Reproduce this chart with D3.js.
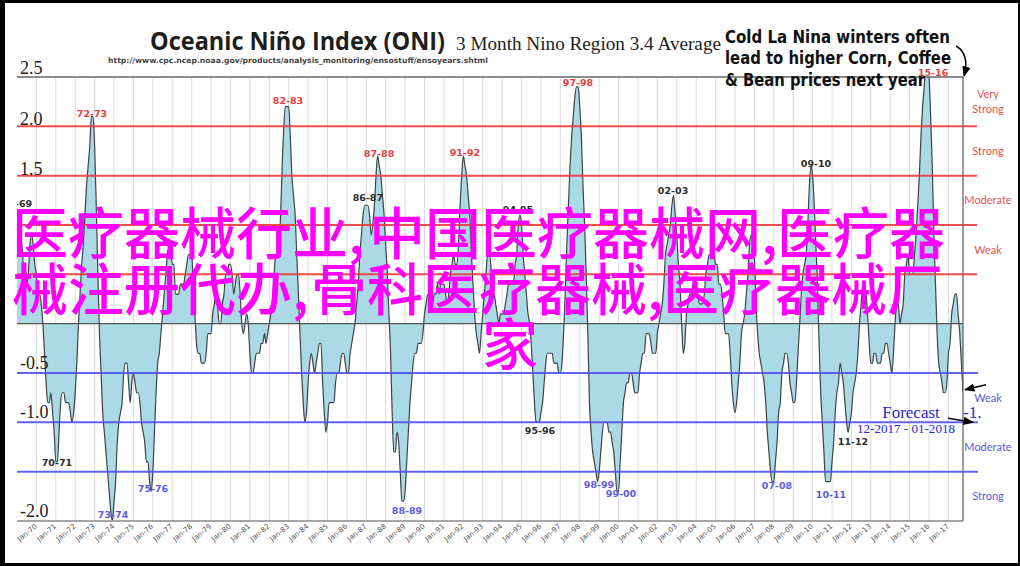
<!DOCTYPE html>
<html><head><meta charset="utf-8">
<script src="https://cdn.jsdelivr.net/npm/d3@7"></script>
<style>html,body{margin:0;padding:0;background:#fff;}svg{display:block;}</style>
</head><body>
<svg id="chart" width="1020" height="566"></svg>
<script>
// ---- DATA ----
const startYear = 1969;
// Oceanic Nino Index, 3-month running mean, one value per month (DJF, JFM, ... NDJ)
const oniValues = [
  1.1,1.1,0.9,0.8,0.6,0.6,0.4,0.5,0.8,0.9,0.8,0.6,        // 1969
  0.5,0.3,0.3,0.2,0.0,-0.3,-0.6,-0.8,-0.8,-0.7,-0.9,-1.1,  // 1970
  -1.4,-1.4,-1.1,-0.8,-0.7,-0.7,-0.8,-0.8,-0.8,-0.9,-1.0,-0.9, // 1971
  -0.7,-0.4,0.0,0.3,0.6,0.8,1.1,1.4,1.6,1.8,2.1,2.1,      // 1972
  1.8,1.2,0.5,-0.1,-0.5,-0.9,-1.1,-1.3,-1.5,-1.7,-1.9,-2.0, // 1973
  -1.8,-1.6,-1.2,-1.0,-0.9,-0.8,-0.5,-0.4,-0.4,-0.6,-0.8,-0.6, // 1974
  -0.5,-0.6,-0.7,-0.7,-0.8,-1.0,-1.1,-1.2,-1.4,-1.4,-1.6,-1.7, // 1975
  -1.5,-1.1,-0.7,-0.4,-0.3,-0.1,0.1,0.3,0.5,0.7,0.8,0.8,  // 1976
  0.6,0.6,0.3,0.3,0.3,0.4,0.4,0.4,0.5,0.6,0.7,0.7,        // 1977
  0.7,0.4,0.1,-0.2,-0.3,-0.3,-0.4,-0.4,-0.4,-0.3,-0.1,-0.1, // 1978
  -0.1,0.1,0.2,0.3,0.2,0.0,0.0,0.2,0.3,0.5,0.5,0.6,       // 1979
  0.6,0.5,0.3,0.4,0.5,0.5,0.3,0.0,-0.1,0.0,0.1,0.0,       // 1980
  -0.3,-0.5,-0.5,-0.4,-0.3,-0.3,-0.3,-0.2,-0.2,-0.1,-0.2,-0.1, // 1981
  0.0,0.1,0.2,0.5,0.7,0.7,0.8,1.1,1.6,2.0,2.2,2.2,        // 1982
  2.2,1.9,1.5,1.3,1.1,0.7,0.3,-0.1,-0.5,-0.8,-1.0,-0.9,   // 1983
  -0.6,-0.4,-0.3,-0.4,-0.5,-0.4,-0.3,-0.2,-0.2,-0.6,-0.9,-1.1, // 1984
  -1.0,-0.8,-0.8,-0.8,-0.8,-0.6,-0.5,-0.5,-0.4,-0.3,-0.3,-0.4, // 1985
  -0.5,-0.5,-0.3,-0.2,-0.1,0.0,0.2,0.4,0.7,0.9,1.1,1.2,   // 1986
  1.2,1.2,1.1,0.9,1.0,1.2,1.5,1.7,1.6,1.5,1.3,1.1,        // 1987
  0.8,0.5,0.1,-0.3,-0.9,-1.3,-1.3,-1.1,-1.2,-1.5,-1.8,-1.8, // 1988
  -1.7,-1.4,-1.1,-0.8,-0.6,-0.4,-0.3,-0.3,-0.2,-0.2,-0.2,-0.1, // 1989
  0.1,0.2,0.3,0.3,0.2,0.2,0.3,0.3,0.4,0.3,0.4,0.4,        // 1990
  0.4,0.3,0.2,0.3,0.5,0.6,0.7,0.6,0.6,0.8,1.2,1.5,        // 1991
  1.7,1.6,1.5,1.3,1.1,0.7,0.4,0.1,-0.1,-0.2,-0.3,-0.1,    // 1992
  0.1,0.3,0.5,0.7,0.7,0.6,0.3,0.3,0.2,0.1,0.0,0.1,        // 1993
  0.1,0.1,0.2,0.3,0.4,0.4,0.4,0.4,0.6,0.7,1.0,1.1,        // 1994
  1.0,0.7,0.5,0.3,0.1,0.0,-0.2,-0.5,-0.8,-1.0,-1.0,-1.0,  // 1995
  -0.9,-0.8,-0.6,-0.4,-0.3,-0.3,-0.3,-0.3,-0.4,-0.4,-0.4,-0.5, // 1996
  -0.5,-0.4,-0.1,0.3,0.8,1.2,1.6,1.9,2.1,2.3,2.4,2.4,     // 1997
  2.2,1.9,1.4,1.0,0.5,-0.1,-0.8,-1.1,-1.3,-1.4,-1.5,-1.6, // 1998
  -1.5,-1.3,-1.1,-1.0,-1.0,-1.0,-1.1,-1.1,-1.2,-1.3,-1.5,-1.7, // 1999
  -1.7,-1.4,-1.1,-0.8,-0.7,-0.6,-0.6,-0.5,-0.5,-0.6,-0.7,-0.7, // 2000
  -0.7,-0.5,-0.4,-0.3,-0.3,-0.1,-0.1,-0.1,-0.2,-0.3,-0.3,-0.3, // 2001
  -0.1,0.0,0.1,0.2,0.4,0.7,0.8,0.9,1.0,1.2,1.3,1.1,       // 2002
  0.9,0.6,0.4,0.0,-0.3,-0.2,0.1,0.2,0.3,0.3,0.4,0.4,      // 2003
  0.4,0.3,0.2,0.2,0.2,0.3,0.5,0.6,0.7,0.7,0.7,0.7,        // 2004
  0.6,0.6,0.4,0.4,0.3,0.1,-0.1,-0.1,-0.1,-0.3,-0.6,-0.8,  // 2005
  -0.9,-0.8,-0.6,-0.4,-0.1,0.0,0.1,0.3,0.5,0.8,0.9,0.9,   // 2006
  0.7,0.2,-0.1,-0.3,-0.4,-0.5,-0.6,-0.8,-1.1,-1.3,-1.5,-1.6, // 2007
  -1.6,-1.4,-1.2,-0.9,-0.8,-0.5,-0.4,-0.3,-0.3,-0.4,-0.6,-0.7, // 2008
  -0.8,-0.8,-0.6,-0.3,0.0,0.3,0.5,0.6,0.7,1.0,1.4,1.6,    // 2009
  1.5,1.2,0.8,0.4,-0.2,-0.7,-1.0,-1.3,-1.6,-1.6,-1.6,-1.6, // 2010
  -1.4,-1.2,-0.9,-0.7,-0.6,-0.4,-0.5,-0.6,-0.8,-1.0,-1.1,-1.0, // 2011
  -0.9,-0.7,-0.6,-0.5,-0.3,0.0,0.2,0.4,0.4,0.3,0.1,-0.2,  // 2012
  -0.4,-0.4,-0.3,-0.3,-0.4,-0.4,-0.4,-0.3,-0.3,-0.2,-0.2,-0.3, // 2013
  -0.4,-0.5,-0.3,0.0,0.2,0.2,0.0,0.1,0.2,0.5,0.6,0.7,     // 2014
  0.5,0.5,0.5,0.7,0.9,1.2,1.5,1.9,2.2,2.4,2.6,2.6,        // 2015
  2.5,2.1,1.6,0.9,0.4,-0.1,-0.4,-0.5,-0.6,-0.7,-0.7,-0.6, // 2016
  -0.3,-0.2,0.1,0.2,0.3,0.3,0.1,-0.1,-0.4,-0.7            // 2017
];
// tick labels that are legible in the chart (others are hidden under the overlay text)
const yTickLabels = [2.5, 2.0, 1.5, -0.5, -1.0, -2.0];
const xTickYears = d3.range(1970, 2018);
const elNinoLines = [2.0, 1.5, 1.0, 0.5];
const laNinaLines = [-0.5, -1.0, -1.5];
const elNinoBands = [{lines:["Very","Strong"], v:2.25},{lines:["Strong"], v:1.75},{lines:["Moderate"], v:1.25},{lines:["Weak"], v:0.75}];
const laNinaBands = [{lines:["Weak"], v:-0.75},{lines:["Moderate"], v:-1.25},{lines:["Strong"], v:-1.75}];
// event labels: text, month index from Jan-1969, ONI level, kind (r = strong El Nino, k = other, b = strong La Nina)
const eventLabels = [
  {t:"68-69", i:0,     v:1.22, k:"k"},
  {t:"72-73", i:46.4,  v:2.13, k:"r"},
  {t:"82-83", i:167.6, v:2.26, k:"r"},
  {t:"86-87", i:217,   v:1.28, k:"k"},
  {t:"87-88", i:223.9, v:1.72, k:"r"},
  {t:"91-92", i:277,   v:1.73, k:"r"},
  {t:"94-95", i:309.8, v:1.16, k:"k"},
  {t:"97-98", i:346.9, v:2.44, k:"r"},
  {t:"02-03", i:405.7, v:1.35, k:"k"},
  {t:"09-10", i:494.1, v:1.62, k:"k"},
  {t:"15-16", i:566.5, v:2.55, k:"r"},
  {t:"70-71", i:24.7,  v:-1.41, k:"k"},
  {t:"73-74", i:59.4,  v:-1.93, k:"b"},
  {t:"75-76", i:84.1,  v:-1.67, k:"b"},
  {t:"88-89", i:241.2, v:-1.89, k:"b"},
  {t:"95-96", i:323.4, v:-1.08, k:"k"},
  {t:"98-99", i:359.9, v:-1.63, k:"b"},
  {t:"99-00", i:373.5, v:-1.72, k:"b"},
  {t:"07-08", i:470,   v:-1.64, k:"b"},
  {t:"10-11", i:503.4, v:-1.73, k:"b"},
  {t:"11-12", i:517,   v:-1.19, k:"k"}
];
const forecastValue = -1.0;
const overlayLines = [
  ["医疗器械行业,", "中国医疗器械网,", "医疗器"],
  ["械注册代办,", "骨科医疗器械,", "医疗器械厂"],
  ["家"]
];

// ---- LAYOUT ----
const svg = d3.select("#chart");
const L = 17, R = 963, T = 77, B = 521;
const x = d3.scaleLinear().domain([0, oniValues.length - 1]).range([L, R]);
const y = d3.scaleLinear().domain([-2, 2.5]).range([B, T]);
const kindColor = {r:"#e8403f", k:"#2b2b2b", b:"#5b5be6"};
const red = "#ee3a3a", blue = "#5252ee";

// frame
svg.append("rect").attr("width",1020).attr("height",566).attr("fill","#000");
svg.append("rect").attr("x",5).attr("y",3).attr("width",1013).attr("height",560).attr("fill","#fff");

const defs = svg.append("defs");
defs.append("clipPath").attr("id","plotclip").append("rect")
  .attr("x",L).attr("y",T).attr("width",R-L).attr("height",B-T);
defs.append("marker").attr("id","ah").attr("viewBox","0 0 10 10").attr("refX",9).attr("refY",5)
  .attr("markerWidth",7).attr("markerHeight",7).attr("orient","auto-start-reverse")
  .append("path").attr("d","M0,1 L10,5 L0,9 z").attr("fill","#000");

// vertical gridlines
svg.append("g").selectAll("line").data(xTickYears).join("line")
  .attr("x1",d=>x((d-startYear)*12)).attr("x2",d=>x((d-startYear)*12))
  .attr("y1",T).attr("y2",B).attr("stroke","#dcdcdc").attr("stroke-width",1);

// area + line
const g = svg.append("g").attr("clip-path","url(#plotclip)");
const area = d3.area().x((d,i)=>x(i)).y0(y(0)).y1(d=>y(d)).curve(d3.curveMonotoneX);
const line = d3.line().x((d,i)=>x(i)).y(d=>y(d)).curve(d3.curveMonotoneX);
g.append("path").datum(oniValues).attr("d",area).attr("fill","#acd9e6");
g.append("path").datum(oniValues).attr("d",line).attr("fill","none").attr("stroke","#3c4446").attr("stroke-width",1.2);

// zero line
svg.append("line").attr("x1",L).attr("x2",R).attr("y1",y(0)).attr("y2",y(0)).attr("stroke","#555").attr("stroke-width",1.2);
// threshold lines
svg.append("g").selectAll("line").data(elNinoLines).join("line")
  .attr("x1",L).attr("x2",977).attr("y1",d=>y(d)).attr("y2",d=>y(d))
  .attr("stroke",red).attr("stroke-width",2).attr("opacity",0.9);
svg.append("g").selectAll("line").data(laNinaLines).join("line")
  .attr("x1",L).attr("x2",978).attr("y1",d=>y(d)).attr("y2",d=>y(d))
  .attr("stroke",blue).attr("stroke-width",2).attr("opacity",0.9);
// plot borders
svg.append("line").attr("x1",L).attr("x2",R).attr("y1",T).attr("y2",T).attr("stroke","#666").attr("stroke-width",1.3);
svg.append("line").attr("x1",L).attr("x2",R).attr("y1",B).attr("y2",B).attr("stroke","#888").attr("stroke-width",1.5);
svg.append("line").attr("x1",R).attr("x2",R).attr("y1",T).attr("y2",B).attr("stroke","#666").attr("stroke-width",1.3);

// y tick labels
svg.append("g").selectAll("text").data(yTickLabels).join("text")
  .attr("x",20).attr("y",d=>y(d) - (d>=2.5 ? 3.5 : d>=0 ? 1 : 4))
  .attr("font-family","'Liberation Serif', serif").attr("font-size",18).attr("fill","#222")
  .text(d=>d.toFixed(1));

// x tick labels
svg.append("g").selectAll("text").data(xTickYears).join("text")
  .attr("transform",d=>`translate(${x((d-startYear)*12)+1},${B+6}) rotate(-40)`)
  .attr("text-anchor","end").attr("font-family","'DejaVu Sans', sans-serif").attr("font-size",7.2).attr("fill","#555")
  .text(d=>"Jan-" + String(d).slice(2));

// band labels
function bandText(data, color){
  const gg = svg.append("g");
  data.forEach(b=>{
    const t = gg.append("text").attr("x",988).attr("text-anchor","middle")
      .attr("font-family","Lato, sans-serif").attr("font-size",11).attr("fill",color);
    const n = b.lines.length;
    b.lines.forEach((s,j)=>{
      t.append("tspan").attr("x",988).attr("y", y(b.v) + 4 + (j - (n-1)/2)*15).text(s);
    });
  });
}
bandText(elNinoBands, "#e45454");
bandText(laNinaBands, "#5a5ae0");

// event labels
const lg = svg.append("g");
lg.append("g").attr("clip-path","url(#plotclip)").selectAll("text").data(eventLabels.filter(d=>d.i<5)).join("text")
  .attr("x",d=>x(d.i)).attr("y",d=>y(d.v)+3.5).attr("text-anchor","middle")
  .attr("font-family","'DejaVu Sans', sans-serif").attr("font-weight","bold").attr("font-size",9.5)
  .attr("fill",d=>kindColor[d.k]).text(d=>d.t);
lg.selectAll("text.ev").data(eventLabels.filter(d=>d.i>=5)).join("text").attr("class","ev")
  .attr("x",d=>x(d.i)).attr("y",d=>y(d.v)+3.5).attr("text-anchor","middle")
  .attr("font-family","'DejaVu Sans', sans-serif").attr("font-weight","bold").attr("font-size",9.5)
  .attr("fill",d=>kindColor[d.k]).text(d=>d.t);

// titles
svg.append("text").attr("x",150).attr("y",50).attr("font-family","'Open Sans', sans-serif").attr("font-weight","bold")
  .attr("font-size",25).attr("fill","#1e1e1e").attr("textLength",295).attr("lengthAdjust","spacingAndGlyphs")
  .text("Oceanic Niño Index (ONI)");
svg.append("text").attr("x",456).attr("y",50).attr("font-family","'Liberation Serif', serif")
  .attr("font-size",18).attr("fill","#222").attr("textLength",265).attr("lengthAdjust","spacingAndGlyphs")
  .text("3 Month Nino Region 3.4 Average");
svg.append("text").attr("x",108).attr("y",63).attr("font-family","'DejaVu Sans', sans-serif").attr("font-weight","bold")
  .attr("font-size",7.5).attr("fill","#444").attr("textLength",380).attr("lengthAdjust","spacingAndGlyphs")
  .text("http://www.cpc.ncep.noaa.gov/products/analysis_monitoring/ensostuff/ensoyears.shtml");

// annotation
const ann = [["Cold La Nina winters often",43,225],["lead to higher Corn, Coffee",64,226],["& Bean prices next year",86,200]];
svg.append("g").selectAll("text").data(ann).join("text")
  .attr("x",725).attr("y",d=>d[1]).attr("font-family","'DejaVu Sans', sans-serif").attr("font-weight","bold")
  .attr("font-size",17).attr("fill","#111").attr("textLength",d=>d[2]).attr("lengthAdjust","spacingAndGlyphs")
  .text(d=>d[0]);
svg.append("path").attr("d",`M956,46 Q970,54 ${R+1},${T-1}`).attr("fill","none").attr("stroke","#000")
  .attr("stroke-width",1.5).attr("marker-end","url(#ah)");

// forecast
svg.append("text").attr("x",911).attr("y",418).attr("text-anchor","middle").attr("font-family","'Liberation Serif', serif")
  .attr("font-size",17).attr("fill","#2a2ad0").text("Forecast");
svg.append("text").attr("x",906).attr("y",433).attr("text-anchor","middle").attr("font-family","'Liberation Serif', serif")
  .attr("font-size",13).attr("fill","#2a2ad0").attr("textLength",98).attr("lengthAdjust","spacingAndGlyphs").text("12-2017 - 01-2018");
svg.append("text").attr("x",963).attr("y",418).attr("font-family","'Liberation Serif', serif")
  .attr("font-size",17).attr("fill","#2a2ad0").text("-1.");
svg.append("line").attr("x1",948).attr("y1",y(forecastValue)-4).attr("x2",973).attr("y2",y(forecastValue))
  .attr("stroke","#000").attr("stroke-width",1.5).attr("marker-end","url(#ah)");
const lastI = oniValues.length - 1;
svg.append("line").attr("x1",986).attr("y1",y(oniValues[lastI])-8).attr("x2",x(lastI)+2).attr("y2",y(oniValues[lastI])-3)
  .attr("stroke","#000").attr("stroke-width",1.5).attr("marker-end","url(#ah)");

// magenta overlay text
const ov = svg.append("text").attr("font-family","'Noto Sans CJK SC', sans-serif").attr("font-weight",500)
  .attr("font-size",56).attr("fill","#ff00ff");
const segX = [[12,369,777],[12,311,663],[482]];
const baseY = [254, 310, 365];
overlayLines.forEach((segs,li)=>{
  segs.forEach((s,si)=>{
    ov.append("tspan").attr("x",segX[li][si]).attr("y",baseY[li]).text(s);
  });
});
</script>
</body></html>
